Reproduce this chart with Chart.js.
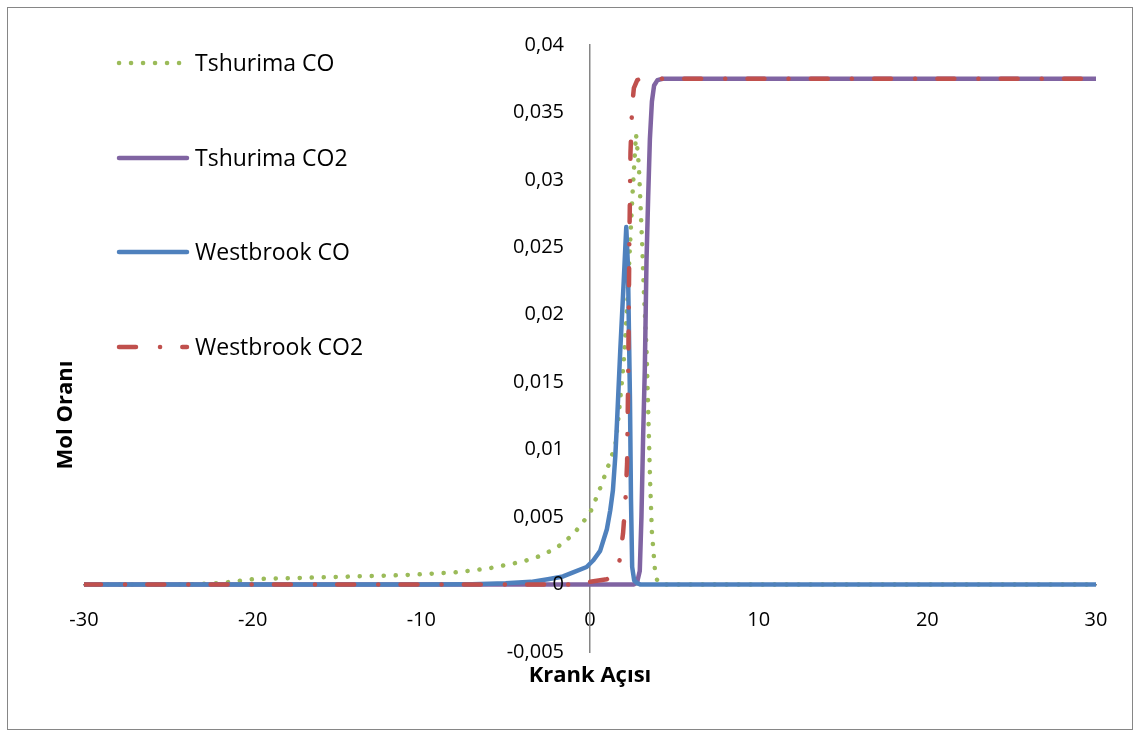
<!DOCTYPE html>
<html>
<head>
<meta charset="utf-8">
<script src="https://cdn.jsdelivr.net/npm/chart.js@4.4.1/dist/chart.umd.min.js"></script>
<style>
  html, body { margin: 0; padding: 0; background: #fff; }
</style>
</head>
<body>
<canvas id="molGrafik" width="1140" height="735"></canvas>
<script>
/* veriler */
const seriAdlari = ['Tshurima CO', 'Tshurima CO2', 'Westbrook CO', 'Westbrook CO2'];

const tshCoAci = [-30, -24, -22, -20, -17, -14, -11, -8, -6, -4, -3, -2, -1, -0.5, 0, 0.5, 1, 1.5, 1.7, 2, 2.2, 2.5, 2.73, 2.9, 3.0, 3.1, 3.2, 3.35, 3.45, 3.56, 3.67, 3.85, 4.0, 4.3, 30];
const tshCoMol = [0, 0, 0.0001, 0.0004, 0.0005, 0.0006, 0.0007, 0.0009, 0.0012, 0.0017, 0.0021, 0.0027, 0.0037, 0.0045, 0.0053, 0.0068, 0.0085, 0.0103, 0.0125, 0.0165, 0.0206, 0.0285, 0.0334, 0.031, 0.028, 0.025, 0.0215, 0.0175, 0.013, 0.0078, 0.0039, 0.0011, 0.0002, 0, 0];

const tshCo2Aci = [-30, 2.6, 2.8, 2.95, 3.05, 3.15, 3.25, 3.35, 3.45, 3.55, 3.67, 3.8, 4.0, 4.3, 30];
const tshCo2Mol = [0, 0, 0.0002, 0.001, 0.005, 0.011, 0.016, 0.024, 0.0288, 0.033, 0.0358, 0.037, 0.0374, 0.0375, 0.0375];

const wbCoAci = [-30, -10, -7, -5, -3.5, -2.5, -1.6, -1, -0.2, 0.2, 0.6, 1.0, 1.2, 1.36, 1.5, 1.6, 1.8, 2.0, 2.15, 2.25, 2.37, 2.43, 2.5, 2.62, 2.8, 3.0, 30];
const wbCoMol = [0, 0, 0.00003, 0.0001, 0.0002, 0.0004, 0.0006, 0.0009, 0.0013, 0.0018, 0.0025, 0.0041, 0.0055, 0.007, 0.0095, 0.012, 0.0175, 0.0225, 0.0265, 0.0236, 0.0137, 0.0063, 0.0013, 0.0003, 0.0001, 0, 0];

const wbCo2Aci = [-30, -1, 0, 1, 1.5, 1.72, 1.96, 2.1, 2.2, 2.27, 2.33, 2.4, 2.5, 2.6, 2.8, 3.0, 30];
const wbCo2Mol = [0, 0, 0.0002, 0.0004, 0.0008, 0.0015, 0.0038, 0.0062, 0.009, 0.016, 0.025, 0.032, 0.0355, 0.0368, 0.0374, 0.0375, 0.0375];

const xEtiketleri = ['-30', '-20', '-10', '0', '10', '20', '30'];
const yEtiketleri = ['-0,005', '0', '0,005', '0,01', '0,015', '0,02', '0,025', '0,03', '0,035', '0,04'];

const noktalar = (xs, ys) => xs.map((x, i) => ({ x: x, y: ys[i] }));

const yazi = '"Open Sans", "Liberation Sans", sans-serif';

/* cerceve, y etiketleri, lejant ve eksen basliklari */
const ekler = {
    id: 'ekler',
    beforeDraw(chart) {
        const c = chart.ctx;
        c.save();
        c.fillStyle = '#fff';
        c.fillRect(0, 0, chart.width, chart.height);
        c.strokeStyle = '#868686';
        c.lineWidth = 1;
        c.strokeRect(7.5, 7.5, 1125, 722);
        c.restore();
    },
    afterDraw(chart) {
        const c = chart.ctx;
        const xs = chart.scales.x;
        const ys = chart.scales.y;
        c.save();

        // y etiketleri eksenin solunda
        c.fillStyle = '#000';
        c.font = '20px ' + yazi;
        c.textAlign = 'right';
        c.textBaseline = 'middle';
        const eksenX = xs.getPixelForValue(0);
        ys.ticks.forEach((t, i) => {
            c.fillText(yEtiketleri[i], eksenX - 26, ys.getPixelForValue(t.value));
        });

        const satirlar = [63, 158, 252, 347];
        chart.data.datasets.forEach((ds, i) => {
            const y = satirlar[i];
            c.beginPath();
            c.strokeStyle = ds.borderColor;
            c.lineWidth = ds.borderWidth;
            c.lineCap = 'round';
            c.setLineDash(ds.borderDash || []);
            c.moveTo(119, y);
            c.lineTo(187, y);
            c.stroke();
            c.setLineDash([]);
            c.fillStyle = '#000';
            c.font = '23px ' + yazi;
            c.textAlign = 'left';
            c.textBaseline = 'middle';
            c.fillText(ds.label, 195, y + 1);
        });

        c.fillStyle = '#000';
        c.font = 'bold 22px ' + yazi;
        c.textAlign = 'center';
        c.textBaseline = 'middle';
        c.fillText('Krank Açısı', 590, 676);
        c.translate(66, 415);
        c.rotate(-Math.PI / 2);
        c.fillText('Mol Oranı', 0, 0);
        c.restore();
    }
};

const ctx = document.getElementById('molGrafik').getContext('2d');
const grafik = new Chart(ctx, {
    type: 'line',
    data: {
        datasets: [{
            label: seriAdlari[0],
            data: noktalar(tshCoAci, tshCoMol),
            borderColor: '#9BBB59',
            borderWidth: 4.5,
            borderDash: [0.1, 11.9],
            order: 4
        },
        {
            label: seriAdlari[1],
            data: noktalar(tshCo2Aci, tshCo2Mol),
            borderColor: '#8064A2',
            borderWidth: 4.5,
            order: 3
        },
        {
            label: seriAdlari[2],
            data: noktalar(wbCoAci, wbCoMol),
            borderColor: '#4F81BD',
            borderWidth: 4.5,
            order: 2
        },
        {
            label: seriAdlari[3],
            data: noktalar(wbCo2Aci, wbCo2Mol),
            borderColor: '#C0504D',
            borderWidth: 4.5,
            borderDash: [17, 24, 0.1, 22.2],
            order: 1
        }]
    },
    options: {
        responsive: false,
        animation: false,
        devicePixelRatio: 1,
        layout: { padding: { left: 84, right: 44, top: 45, bottom: 83 } },
        elements: {
            point: { radius: 0 },
            line: { tension: 0, fill: false, borderCapStyle: 'round', borderJoinStyle: 'round' }
        },
        plugins: {
            legend: { display: false },
            tooltip: { enabled: false }
        },
        scales: {
            x: {
                type: 'linear',
                position: { y: 0 },
                min: -30,
                max: 30,
                grid: { display: false, drawTicks: false },
                border: { display: true, color: '#868686', width: 1.5 },
                ticks: {
                    stepSize: 10,
                    padding: 24,
                    color: '#000',
                    font: { family: yazi, size: 20 },
                    maxRotation: 0,
                    callback: (v, i) => xEtiketleri[i]
                }
            },
            y: {
                type: 'linear',
                position: { x: 0 },
                min: -0.005,
                max: 0.04,
                grid: { display: false, drawTicks: false },
                border: { display: true, color: '#868686', width: 1.5 },
                ticks: {
                    display: false,
                    stepSize: 0.005
                }
            }
        }
    },
    plugins: [ekler]
});
</script>
</body>
</html>
